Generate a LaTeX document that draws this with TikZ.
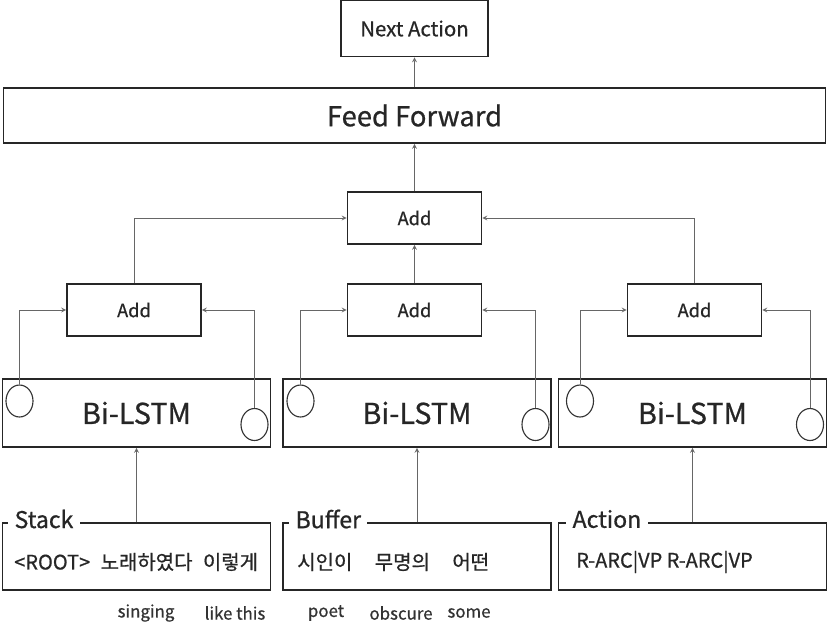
\documentclass[tikz,border=0pt]{standalone}
\usepackage{fontspec}
\setmainfont{Noto Sans CJK KR}[FakeBold=0.7]
\usetikzlibrary{shapes.geometric}

\begin{document}
\begin{tikzpicture}[
    x=0.025cm, y=-0.025cm,
    box/.style={rectangle, draw=black!85, line width=1.1pt, inner sep=0pt, text=black!85},
    addbox/.style={box, minimum width=3.35cm, minimum height=1.3cm, font=\fontsize{13}{15}\selectfont},
    lstm/.style={box, minimum width=6.7cm, minimum height=1.7cm, font=\fontsize{20.5}{24}\selectfont},
    inbox/.style={box, minimum width=6.7cm, minimum height=1.675cm},
    title/.style={fill=white, inner xsep=4.5pt, inner ysep=0pt, anchor=west, text=black!85, font=\fontsize{16.4}{18}\selectfont},
    words/.style={anchor=west, inner sep=0pt, text=black!85, font=\fontsize{14.2}{16}\selectfont},
    gloss/.style={text=black!80, font=\fontsize{12}{14}\selectfont},
    gate/.style={ellipse, draw=black!80, line width=0.8pt, minimum width=0.675cm, minimum height=0.8cm, inner sep=0pt},
    arrow/.style={->, >=stealth, draw=black!60, line width=0.6pt}
  ]
    \useasboundingbox (0,0) rectangle (827,627);

    \node[box, minimum width=3.675cm, minimum height=1.4cm, font=\fontsize{14.5}{16}\selectfont] (next) at (414.5,28.5) {Next Action};
    \node[box, minimum width=20.55cm, minimum height=1.375cm, font=\fontsize{19.5}{22}\selectfont] (ffwd) at (414.5,115.5) {Feed Forward};

    \node[addbox] (addtop) at (414.5,218) {Add};
    \node[addbox] (addS) at (134,310) {Add};
    \node[addbox] (addB) at (414.5,310) {Add};
    \node[addbox] (addA) at (694.5,310) {Add};

    \node[lstm] (lstmS) at (136.5,413) {Bi-LSTM};
    \node[lstm] (lstmB) at (417,413) {Bi-LSTM};
    \node[lstm] (lstmA) at (692.5,413) {Bi-LSTM};

    \node[gate] (fS) at (19.5,401) {};
    \node[gate] (bS) at (254.5,424.5) {};
    \node[gate] (fB) at (300.5,401) {};
    \node[gate] (bB) at (535.5,424.5) {};
    \node[gate] (fA) at (580,401) {};
    \node[gate] (bA) at (810,424.5) {};

    \node[inbox] (stack) at (136.5,556.5) {};
    \node[inbox] (buffer) at (417,556.5) {};
    \node[inbox] (action) at (692.5,556.5) {};
    \node[title] (stackT) at (8,519) {Stack};
    \node[title] (bufferT) at (289,519) {Buffer};
    \node[title] (actionT) at (566,519) {Action};

    \node[words] (stackW) at (14,562) {<ROOT>\hspace{0.3em} 노래하였다\hspace{0.3em} 이렇게};
    \node[words] (bufferW) at (297,562) {시인이\hspace{0.9em} 무명의\hspace{0.9em} 어떤};
    \node[words] (actionW) at (576,562) {R-ARC|VP R-ARC|VP};

    \node[gloss] (sing) at (146,613) {singing};
    \node[gloss] (like) at (235,613) {like this};
    \node[gloss] (poet) at (326,613) {poet};
    \node[gloss] (obsc) at (401,613) {obscure};
    \node[gloss] (some) at (469,613) {some};

    \draw[arrow] (ffwd) -- (next);
    \draw[arrow] (addtop) -- (ffwd);
    \draw[arrow] (addB) -- (addtop);
    \draw[arrow] (addS.north) |- (addtop.west);
    \draw[arrow] (addA.north) |- (addtop.east);
    \draw[arrow] (fS.north) |- (addS.west);
    \draw[arrow] (bS.north) |- (addS.east);
    \draw[arrow] (fB.north) |- (addB.west);
    \draw[arrow] (bB.north) |- (addB.east);
    \draw[arrow] (fA.north) |- (addA.west);
    \draw[arrow] (bA.north) |- (addA.east);
    \draw[arrow] (stack) -- (lstmS);
    \draw[arrow] (buffer) -- (lstmB);
    \draw[arrow] (action) -- (lstmA);
  \end{tikzpicture}
\end{document}
